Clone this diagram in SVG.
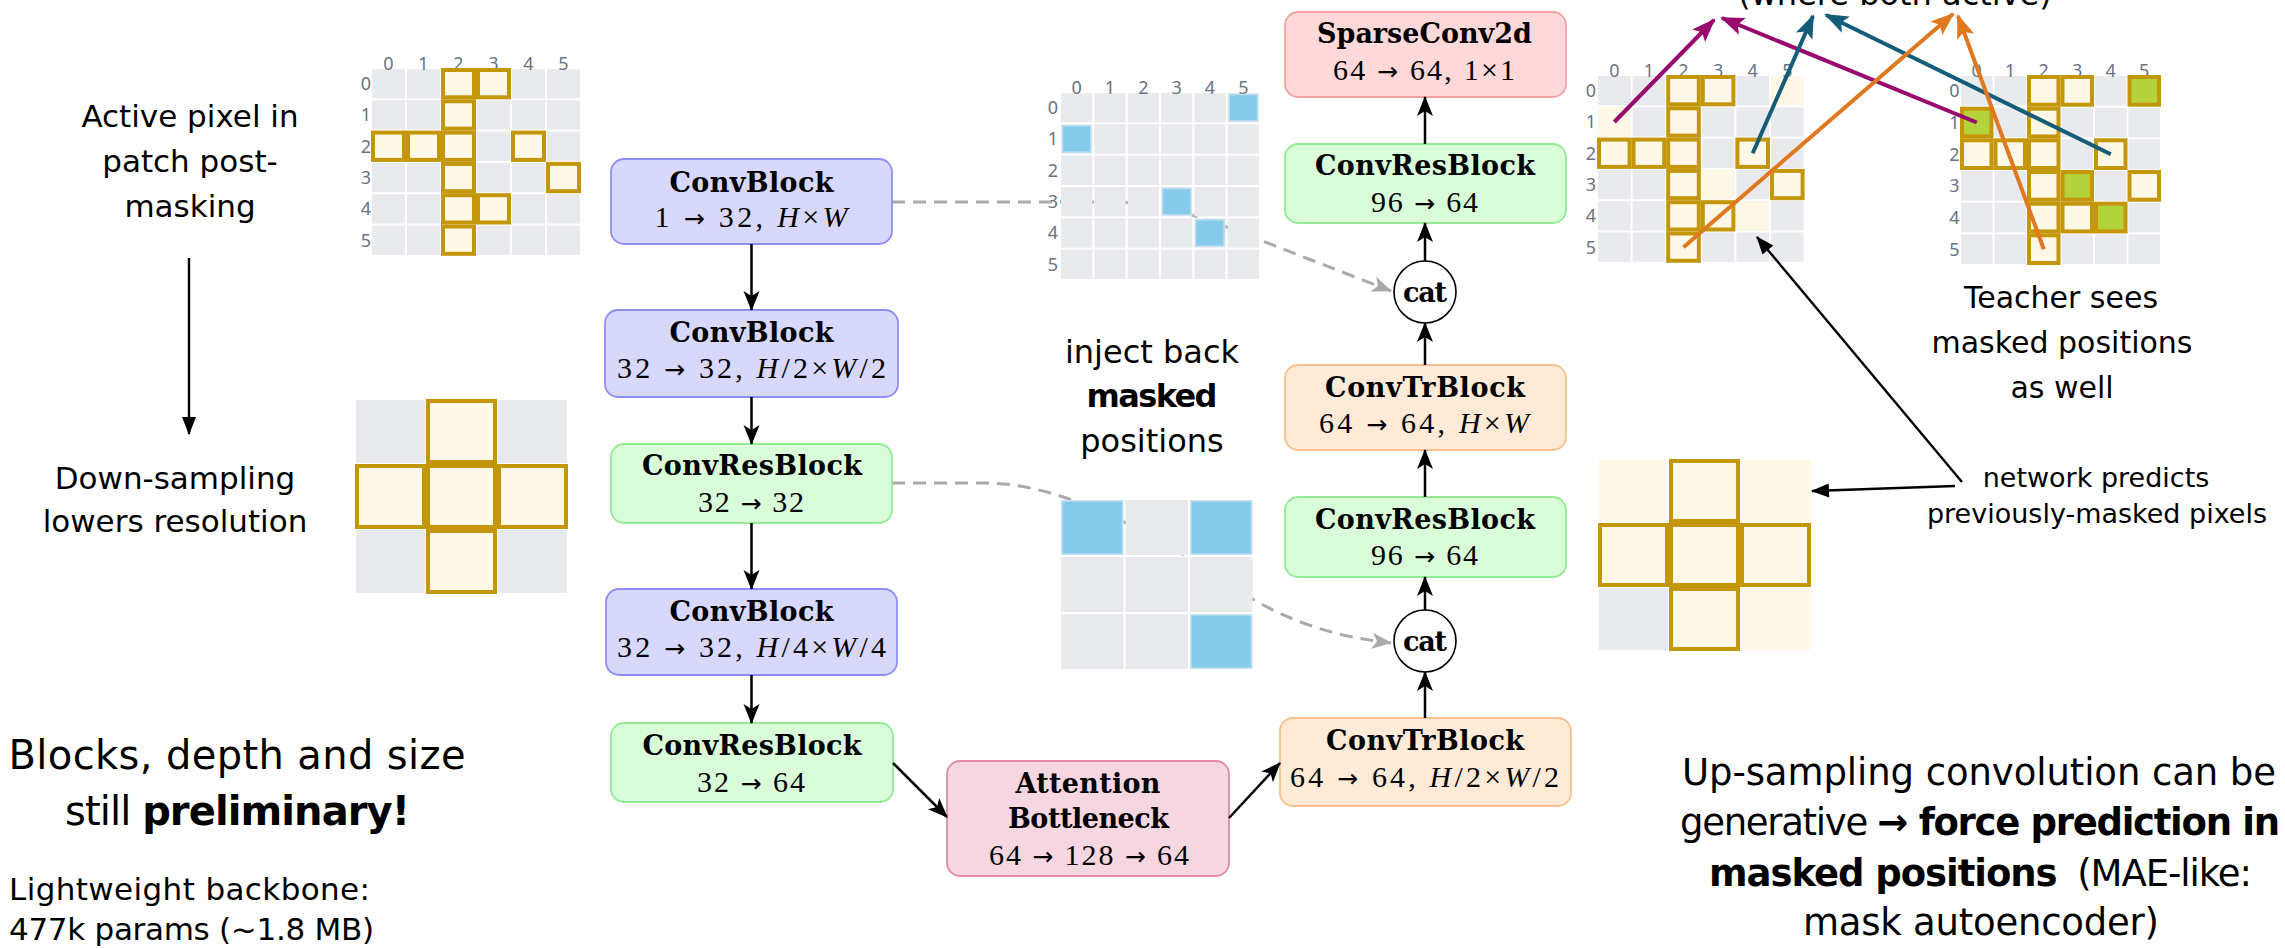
<svg xmlns="http://www.w3.org/2000/svg" width="2285" height="948" viewBox="0 0 2285 948">
  <style>
    .sans { font-family: "DejaVu Sans", "Liberation Sans", sans-serif; fill: #000; }
    .mid { text-anchor: middle; }
    .b { font-weight: bold; }
    .ttl { font-family: "DejaVu Serif", "Liberation Serif", serif; font-weight: bold; font-size: 27px; text-anchor: middle; fill: #000; }
    .math { font-family: "Liberation Serif", "DejaVu Serif", serif; font-size: 30px; text-anchor: middle; fill: #000; }
    .ar { font-family: "DejaVu Sans", sans-serif; font-size: 25px; }
    .it { font-style: italic; }
    .lbl { font-family: "Noto Sans", "DejaVu Sans", sans-serif; font-size: 18px; fill: #6b7280; text-anchor: middle; }
    .act { fill: #fff8e6; stroke: #c4960a; stroke-width: 4; }
    .grn { fill: #b4d23c; stroke: #c4960a; stroke-width: 4; }
    .faint { fill: #fff8e6; }
    .blue { fill: #86cbea; stroke: #b8dff1; stroke-width: 1.5; }
    .cb  { fill: #d8d8fc; stroke: #8e8ef2; stroke-width: 1.8; }
    .crb { fill: #d9fcd9; stroke: #93ec93; stroke-width: 1.8; }
    .ctb { fill: #ffead8; stroke: #f7c08e; stroke-width: 1.8; }
    .sc  { fill: #ffd9d9; stroke: #f4a3a3; stroke-width: 1.8; }
    .att { fill: #f6d6e0; stroke: #e08ca6; stroke-width: 1.8; }
    .flow { stroke: #000; stroke-width: 2.5; fill: none; marker-end: url(#stealth); }
    .skip { stroke: #aaaaaa; stroke-width: 3; stroke-dasharray: 13 8; fill: none; marker-end: url(#stealthGray); }
    .note { stroke: #000; stroke-width: 2.4; fill: none; marker-end: url(#tri); }
    .mag { stroke: #990a6e; stroke-width: 4; fill: none; marker-end: url(#headMag); }
    .teal { stroke: #145c78; stroke-width: 4; fill: none; marker-end: url(#headTeal); }
    .org { stroke: #e07820; stroke-width: 4; fill: none; marker-end: url(#headOrg); }
  </style>
  <defs>
    <marker id="stealth" viewBox="-21 -9 23 18" markerWidth="23" markerHeight="18" refX="0" refY="0" orient="auto" markerUnits="userSpaceOnUse">
      <path d="M1,0 L-19,-8 L-14,0 L-19,8 Z" fill="#000"/>
    </marker>
    <marker id="stealthGray" viewBox="-21 -9 23 18" markerWidth="23" markerHeight="18" refX="0" refY="0" orient="auto" markerUnits="userSpaceOnUse">
      <path d="M1,0 L-19,-8 L-14,0 L-19,8 Z" fill="#aaaaaa"/>
    </marker>
    <marker id="tri" viewBox="-19 -8 21 16" markerWidth="21" markerHeight="16" refX="0" refY="0" orient="auto" markerUnits="userSpaceOnUse">
      <path d="M1,0 L-17,-7 L-17,7 Z" fill="#000"/>
    </marker>
    <marker id="headMag" viewBox="-24 -10 26 20" markerWidth="26" markerHeight="20" refX="0" refY="0" orient="auto" markerUnits="userSpaceOnUse">
      <path d="M2,0 L-22,-9 L-17,0 L-22,9 Z" fill="#990a6e"/>
    </marker>
    <marker id="headTeal" viewBox="-24 -10 26 20" markerWidth="26" markerHeight="20" refX="0" refY="0" orient="auto" markerUnits="userSpaceOnUse">
      <path d="M2,0 L-22,-9 L-17,0 L-22,9 Z" fill="#145c78"/>
    </marker>
    <marker id="headOrg" viewBox="-24 -10 26 20" markerWidth="26" markerHeight="20" refX="0" refY="0" orient="auto" markerUnits="userSpaceOnUse">
      <path d="M2,0 L-22,-9 L-17,0 L-22,9 Z" fill="#e07820"/>
    </marker>
    <!-- grey pixel backgrounds, one tile per pixel -->
    <pattern id="pG1" patternUnits="userSpaceOnUse" x="371" y="68" width="35" height="31.3"><rect x="1" y="1" width="33" height="29.3" fill="#e8eaee"/></pattern>
    <pattern id="pGM" patternUnits="userSpaceOnUse" x="1060" y="92" width="33.333" height="31.333"><rect x="1" y="1" width="31.333" height="29.333" fill="#e8eaee"/></pattern>
    <pattern id="pR1" patternUnits="userSpaceOnUse" x="1597" y="75" width="34.6" height="31.3"><rect x="1" y="1" width="32.6" height="29.3" fill="#e8eaee"/></pattern>
    <pattern id="pR2" patternUnits="userSpaceOnUse" x="1960" y="75" width="33.5" height="31.667"><rect x="1" y="1" width="31.5" height="29.667" fill="#e8eaee"/></pattern>
    <pattern id="pL3" patternUnits="userSpaceOnUse" x="355" y="399" width="71" height="65"><rect x="1" y="1" width="69" height="63" fill="#e8eaee"/></pattern>
    <pattern id="pM3" patternUnits="userSpaceOnUse" x="1060" y="499" width="64.5" height="57"><rect x="1" y="1" width="62.5" height="55" fill="#e8eaee"/></pattern>
    <pattern id="pR3" patternUnits="userSpaceOnUse" x="1598" y="459" width="71" height="64"><rect x="1" y="1" width="69" height="62" fill="#e8eaee"/></pattern>
  </defs>

  <rect width="2285" height="948" fill="#fff"/>

  <!-- skip connections (drawn beneath the mask grids) -->
  <g id="skip-connectors">
    <path class="skip" d="M892,202 L1110,202 C1170,202 1220,225 1260,240 L1391,291"/>
    <path class="skip" d="M892,483 L985,483 C1060,483 1150,530 1230,585 C1290,625 1340,637 1391,643"/>
  </g>

  <!-- encoder -->
  <g id="enc-convblock-1">
    <rect class="cb" x="611" y="159" width="281" height="85" rx="13"/>
    <text class="ttl" x="751.5" y="192" textLength="164" lengthAdjust="spacing">ConvBlock</text>
    <text class="math" x="751" y="227" textLength="193" lengthAdjust="spacing">1 <tspan class="ar">→</tspan> 32, <tspan class="it">H</tspan>×<tspan class="it">W</tspan></text>
  </g>
  <g id="enc-convblock-2">
    <rect class="cb" x="605" y="310" width="293" height="87" rx="13"/>
    <text class="ttl" x="751.5" y="342" textLength="164" lengthAdjust="spacing">ConvBlock</text>
    <text class="math" x="751.5" y="378" textLength="269" lengthAdjust="spacing">32 <tspan class="ar">→</tspan> 32, <tspan class="it">H</tspan>/2×<tspan class="it">W</tspan>/2</text>
  </g>
  <g id="enc-convresblock-1">
    <rect class="crb" x="611" y="444" width="281" height="79" rx="13"/>
    <text class="ttl" x="752" y="475" textLength="220" lengthAdjust="spacing">ConvResBlock</text>
    <text class="math" x="751" y="512" textLength="106" lengthAdjust="spacing">32 <tspan class="ar">→</tspan> 32</text>
  </g>
  <g id="enc-convblock-3">
    <rect class="cb" x="606" y="589" width="291" height="86" rx="13"/>
    <text class="ttl" x="751.5" y="621" textLength="164" lengthAdjust="spacing">ConvBlock</text>
    <text class="math" x="751.5" y="657" textLength="269" lengthAdjust="spacing">32 <tspan class="ar">→</tspan> 32, <tspan class="it">H</tspan>/4×<tspan class="it">W</tspan>/4</text>
  </g>
  <g id="enc-convresblock-2">
    <rect class="crb" x="611" y="723" width="282" height="79" rx="13"/>
    <text class="ttl" x="752" y="755" textLength="219" lengthAdjust="spacing">ConvResBlock</text>
    <text class="math" x="751" y="792" textLength="108" lengthAdjust="spacing">32 <tspan class="ar">→</tspan> 64</text>
  </g>

  <!-- bottleneck -->
  <g id="attention-bottleneck">
    <rect class="att" x="947" y="761" width="282" height="115" rx="13"/>
    <text class="ttl" x="1088" y="793" textLength="145" lengthAdjust="spacing">Attention</text>
    <text class="ttl" x="1088.5" y="828" textLength="161" lengthAdjust="spacing">Bottleneck</text>
    <text class="math" x="1089" y="865" textLength="200" lengthAdjust="spacing">64 <tspan class="ar">→</tspan> 128 <tspan class="ar">→</tspan> 64</text>
  </g>

  <!-- decoder -->
  <g id="dec-convtrblock-1">
    <rect class="ctb" x="1280" y="718" width="291" height="88" rx="13"/>
    <text class="ttl" x="1425" y="750" textLength="198" lengthAdjust="spacing">ConvTrBlock</text>
    <text class="math" x="1424.5" y="787" textLength="269" lengthAdjust="spacing">64 <tspan class="ar">→</tspan> 64, <tspan class="it">H</tspan>/2×<tspan class="it">W</tspan>/2</text>
  </g>
  <g id="dec-cat-1">
    <circle cx="1425" cy="641" r="31" fill="#fff" stroke="#000" stroke-width="1.6"/>
    <text class="ttl" x="1425" y="651" textLength="44" lengthAdjust="spacing">cat</text>
  </g>
  <g id="dec-convresblock-1">
    <rect class="crb" x="1285" y="497" width="281" height="80" rx="13"/>
    <text class="ttl" x="1425" y="529" textLength="220" lengthAdjust="spacing">ConvResBlock</text>
    <text class="math" x="1424.5" y="565" textLength="107" lengthAdjust="spacing">96 <tspan class="ar">→</tspan> 64</text>
  </g>
  <g id="dec-convtrblock-2">
    <rect class="ctb" x="1285" y="365" width="281" height="85" rx="13"/>
    <text class="ttl" x="1425" y="397" textLength="200" lengthAdjust="spacing">ConvTrBlock</text>
    <text class="math" x="1424" y="433" textLength="210" lengthAdjust="spacing">64 <tspan class="ar">→</tspan> 64, <tspan class="it">H</tspan>×<tspan class="it">W</tspan></text>
  </g>
  <g id="dec-cat-2">
    <circle cx="1425" cy="292" r="31" fill="#fff" stroke="#000" stroke-width="1.6"/>
    <text class="ttl" x="1425" y="302" textLength="44" lengthAdjust="spacing">cat</text>
  </g>
  <g id="dec-convresblock-2">
    <rect class="crb" x="1285" y="144" width="281" height="79" rx="13"/>
    <text class="ttl" x="1425" y="175" textLength="220" lengthAdjust="spacing">ConvResBlock</text>
    <text class="math" x="1424.5" y="212" textLength="107" lengthAdjust="spacing">96 <tspan class="ar">→</tspan> 64</text>
  </g>
  <g id="sparseconv2d">
    <rect class="sc" x="1285" y="12" width="281" height="85" rx="13"/>
    <text class="ttl" x="1424.5" y="43" textLength="215" lengthAdjust="spacing">SparseConv2d</text>
    <text class="math" x="1424" y="80" textLength="182" lengthAdjust="spacing">64 <tspan class="ar">→</tspan> 64, 1×1</text>
  </g>

  <!-- data flow -->
  <g id="connectors">
    <path class="flow" d="M751.5,244 L751.5,310"/>
    <path class="flow" d="M751.5,397 L751.5,444"/>
    <path class="flow" d="M751.5,523 L751.5,589"/>
    <path class="flow" d="M751.5,675 L751.5,723"/>
    <path class="flow" d="M893,763 L947,817"/>
    <path class="flow" d="M1229,818 L1280,763"/>
    <path class="flow" d="M1425,718 L1425,672"/>
    <path class="flow" d="M1425,610 L1425,577"/>
    <path class="flow" d="M1425,497 L1425,450"/>
    <path class="flow" d="M1425,365 L1425,323"/>
    <path class="flow" d="M1425,261 L1425,223"/>
    <path class="flow" d="M1425,144 L1425,97"/>
  </g>

  <!-- input patch after masking -->
  <g id="grid-input">
    <rect x="371" y="68" width="210" height="187.8" fill="url(#pG1)"/>
    <g class="lbl">
      <text x="388.5" y="70">0</text><text x="423.5" y="70">1</text><text x="458.5" y="70">2</text>
      <text x="493.5" y="70">3</text><text x="528.5" y="70">4</text><text x="563.5" y="70">5</text>
      <text x="366" y="90">0</text><text x="366" y="121.3">1</text><text x="366" y="152.6">2</text>
      <text x="366" y="183.9">3</text><text x="366" y="215.2">4</text><text x="366" y="246.5">5</text>
    </g>
    <g class="act">
      <rect x="443" y="70" width="31" height="27.3"/>
      <rect x="478" y="70" width="31" height="27.3"/>
      <rect x="443" y="101.3" width="31" height="27.3"/>
      <rect x="373" y="132.6" width="31" height="27.3"/>
      <rect x="408" y="132.6" width="31" height="27.3"/>
      <rect x="443" y="132.6" width="31" height="27.3"/>
      <rect x="513" y="132.6" width="31" height="27.3"/>
      <rect x="443" y="163.9" width="31" height="27.3"/>
      <rect x="548" y="163.9" width="31" height="27.3"/>
      <rect x="443" y="195.2" width="31" height="27.3"/>
      <rect x="478" y="195.2" width="31" height="27.3"/>
      <rect x="443" y="226.5" width="31" height="27.3"/>
    </g>
  </g>

  <!-- downsampled patch -->
  <g id="grid-downsampled">
    <rect x="355" y="399" width="213" height="195" fill="url(#pL3)"/>
    <g class="act">
      <rect x="428" y="401" width="67" height="61"/>
      <rect x="357" y="466" width="67" height="61"/>
      <rect x="428" y="466" width="67" height="61"/>
      <rect x="499" y="466" width="67" height="61"/>
      <rect x="428" y="531" width="67" height="61"/>
    </g>
  </g>

  <!-- masked positions, full resolution -->
  <g id="grid-mask-full">
    <rect x="1060" y="92" width="200" height="188" fill="url(#pGM)"/>
    <g class="lbl">
      <text x="1076.7" y="94">0</text><text x="1110" y="94">1</text><text x="1143.3" y="94">2</text>
      <text x="1176.7" y="94">3</text><text x="1210" y="94">4</text><text x="1243.3" y="94">5</text>
      <text x="1053" y="114">0</text><text x="1053" y="145.3">1</text><text x="1053" y="176.6">2</text>
      <text x="1053" y="208">3</text><text x="1053" y="239.3">4</text><text x="1053" y="270.6">5</text>
    </g>
    <g class="blue">
      <rect x="1229.2" y="94.5" width="28.3" height="26.3"/>
      <rect x="1062.5" y="125.8" width="28.3" height="26.3"/>
      <rect x="1162.5" y="188.5" width="28.3" height="26.3"/>
      <rect x="1195.8" y="219.8" width="28.3" height="26.3"/>
    </g>
  </g>

  <!-- masked positions, half resolution -->
  <g id="grid-mask-half">
    <rect x="1060" y="499" width="193.5" height="171" fill="url(#pM3)"/>
    <g class="blue">
      <rect x="1062" y="501" width="60.5" height="53"/>
      <rect x="1191" y="501" width="60.5" height="53"/>
      <rect x="1191" y="615" width="60.5" height="53"/>
    </g>
  </g>

  <!-- student prediction -->
  <g id="grid-student">
    <rect x="1597" y="75" width="207.6" height="187.8" fill="url(#pR1)"/>
    <g class="faint">
      <rect x="1771" y="76" width="32.6" height="29.3"/>
      <rect x="1598" y="107.3" width="32.6" height="29.3"/>
      <rect x="1701.8" y="169.9" width="32.6" height="29.3"/>
      <rect x="1736.4" y="201.2" width="32.6" height="29.3"/>
    </g>
    <g class="lbl">
      <text x="1614.3" y="77">0</text><text x="1648.9" y="77">1</text><text x="1683.5" y="77">2</text>
      <text x="1718.1" y="77">3</text><text x="1752.7" y="77">4</text><text x="1787.3" y="77">5</text>
      <text x="1591" y="97">0</text><text x="1591" y="128.3">1</text><text x="1591" y="159.6">2</text>
      <text x="1591" y="190.9">3</text><text x="1591" y="222.2">4</text><text x="1591" y="253.5">5</text>
    </g>
    <g class="act">
      <rect x="1668.2" y="77" width="30.6" height="27.3"/>
      <rect x="1702.8" y="77" width="30.6" height="27.3"/>
      <rect x="1668.2" y="108.3" width="30.6" height="27.3"/>
      <rect x="1599" y="139.6" width="30.6" height="27.3"/>
      <rect x="1633.6" y="139.6" width="30.6" height="27.3"/>
      <rect x="1668.2" y="139.6" width="30.6" height="27.3"/>
      <rect x="1737.4" y="139.6" width="30.6" height="27.3"/>
      <rect x="1668.2" y="170.9" width="30.6" height="27.3"/>
      <rect x="1772" y="170.9" width="30.6" height="27.3"/>
      <rect x="1668.2" y="202.2" width="30.6" height="27.3"/>
      <rect x="1702.8" y="202.2" width="30.6" height="27.3"/>
      <rect x="1668.2" y="233.5" width="30.6" height="27.3"/>
    </g>
  </g>

  <!-- teacher view -->
  <g id="grid-teacher">
    <rect x="1960" y="75" width="201" height="190" fill="url(#pR2)"/>
    <g class="lbl">
      <text x="1976.75" y="77">0</text><text x="2010.25" y="77">1</text><text x="2043.75" y="77">2</text>
      <text x="2077.25" y="77">3</text><text x="2110.75" y="77">4</text><text x="2144.25" y="77">5</text>
      <text x="1954.5" y="97.2">0</text><text x="1954.5" y="128.9">1</text><text x="1954.5" y="160.6">2</text>
      <text x="1954.5" y="192.2">3</text><text x="1954.5" y="223.9">4</text><text x="1954.5" y="255.6">5</text>
    </g>
    <g class="act">
      <rect x="2029" y="77" width="29.5" height="27.7"/>
      <rect x="2062.5" y="77" width="29.5" height="27.7"/>
      <rect x="2029" y="108.7" width="29.5" height="27.7"/>
      <rect x="1962" y="140.3" width="29.5" height="27.7"/>
      <rect x="1995.5" y="140.3" width="29.5" height="27.7"/>
      <rect x="2029" y="140.3" width="29.5" height="27.7"/>
      <rect x="2096" y="140.3" width="29.5" height="27.7"/>
      <rect x="2029" y="172" width="29.5" height="27.7"/>
      <rect x="2129.5" y="172" width="29.5" height="27.7"/>
      <rect x="2029" y="203.7" width="29.5" height="27.7"/>
      <rect x="2062.5" y="203.7" width="29.5" height="27.7"/>
      <rect x="2029" y="235.3" width="29.5" height="27.7"/>
    </g>
    <g class="grn">
      <rect x="2129.5" y="77" width="29.5" height="27.7"/>
      <rect x="1962" y="108.7" width="29.5" height="27.7"/>
      <rect x="2062.5" y="172" width="29.5" height="27.7"/>
      <rect x="2096" y="203.7" width="29.5" height="27.7"/>
    </g>
  </g>

  <!-- predicted patch, half resolution -->
  <g id="grid-predicted">
    <rect x="1598" y="459" width="213" height="192" fill="url(#pR3)"/>
    <g class="faint">
      <rect x="1599" y="460" width="69" height="62"/>
      <rect x="1741" y="460" width="69" height="62"/>
      <rect x="1741" y="588" width="69" height="62"/>
    </g>
    <g class="act">
      <rect x="1671" y="461" width="67" height="60"/>
      <rect x="1600" y="525" width="67" height="60"/>
      <rect x="1671" y="525" width="67" height="60"/>
      <rect x="1742" y="525" width="67" height="60"/>
      <rect x="1671" y="589" width="67" height="60"/>
    </g>
  </g>

  <!-- pixel correspondences between student and teacher -->
  <g id="match-connectors">
    <path class="mag" d="M1614.3,122 L1714,20"/>
    <path class="mag" d="M1976.8,122.5 L1722,18"/>
    <path class="teal" d="M1752.7,153.3 L1813,16"/>
    <path class="teal" d="M2110.8,154.2 L1826,15"/>
    <path class="org" d="M1683.5,247.2 L1953,14"/>
    <path class="org" d="M2043.8,249.2 L1958,16"/>
  </g>

  <!-- annotation pointers -->
  <g id="note-connectors">
    <path class="note" d="M189,258 L189,434"/>
    <path class="note" d="M1962,482 L1757,237"/>
    <path class="note" d="M1955,486 L1812,491"/>
  </g>

  <!-- captions -->
  <g id="caption-input" class="sans mid" font-size="31">
    <text x="190" y="127">Active pixel in</text>
    <text x="190" y="172">patch post-</text>
    <text x="190" y="217">masking</text>
  </g>
  <g id="caption-downsampling" class="sans mid" font-size="31">
    <text x="175" y="489">Down-sampling</text>
    <text x="175" y="532">lowers resolution</text>
  </g>
  <g id="caption-inject" class="sans mid" font-size="32">
    <text x="1152" y="363">inject back</text>
    <text x="1152" y="407" class="b" textLength="131" lengthAdjust="spacing">masked</text>
    <text x="1152" y="452">positions</text>
  </g>
  <g id="caption-match" class="sans mid" font-size="32">
    <text x="1895" y="5">(where both active)</text>
  </g>
  <g id="caption-teacher" class="sans mid" font-size="30">
    <text x="2061" y="308">Teacher sees</text>
    <text x="2062" y="353">masked positions</text>
    <text x="2062" y="398">as well</text>
  </g>
  <g id="caption-predicts" class="sans mid" font-size="27">
    <text x="2096" y="487">network predicts</text>
    <text x="2097" y="523">previously-masked pixels</text>
  </g>
  <g id="caption-preliminary" class="sans mid" font-size="40">
    <text x="237" y="769" textLength="457" lengthAdjust="spacing">Blocks, depth and size</text>
    <text x="237.5" y="825" textLength="345" lengthAdjust="spacing">still <tspan class="b">preliminary!</tspan></text>
  </g>
  <g id="caption-params" class="sans" font-size="31">
    <text x="9" y="900" textLength="361" lengthAdjust="spacing">Lightweight backbone:</text>
    <text x="9" y="940" textLength="365" lengthAdjust="spacing">477k params (~1.8 MB)</text>
  </g>
  <g id="caption-upsampling" class="sans mid" font-size="37">
    <text x="1979" y="785" textLength="594" lengthAdjust="spacing">Up-sampling convolution can be</text>
    <text x="1980" y="835" textLength="600" lengthAdjust="spacing">generative <tspan class="b">→ force prediction in</tspan></text>
    <text x="1980.5" y="886" textLength="543" lengthAdjust="spacing"><tspan class="b">masked positions</tspan> <tspan dx="10">(MAE-like:</tspan></text>
    <text x="1981" y="935" textLength="356" lengthAdjust="spacing">mask autoencoder)</text>
  </g>
</svg>
